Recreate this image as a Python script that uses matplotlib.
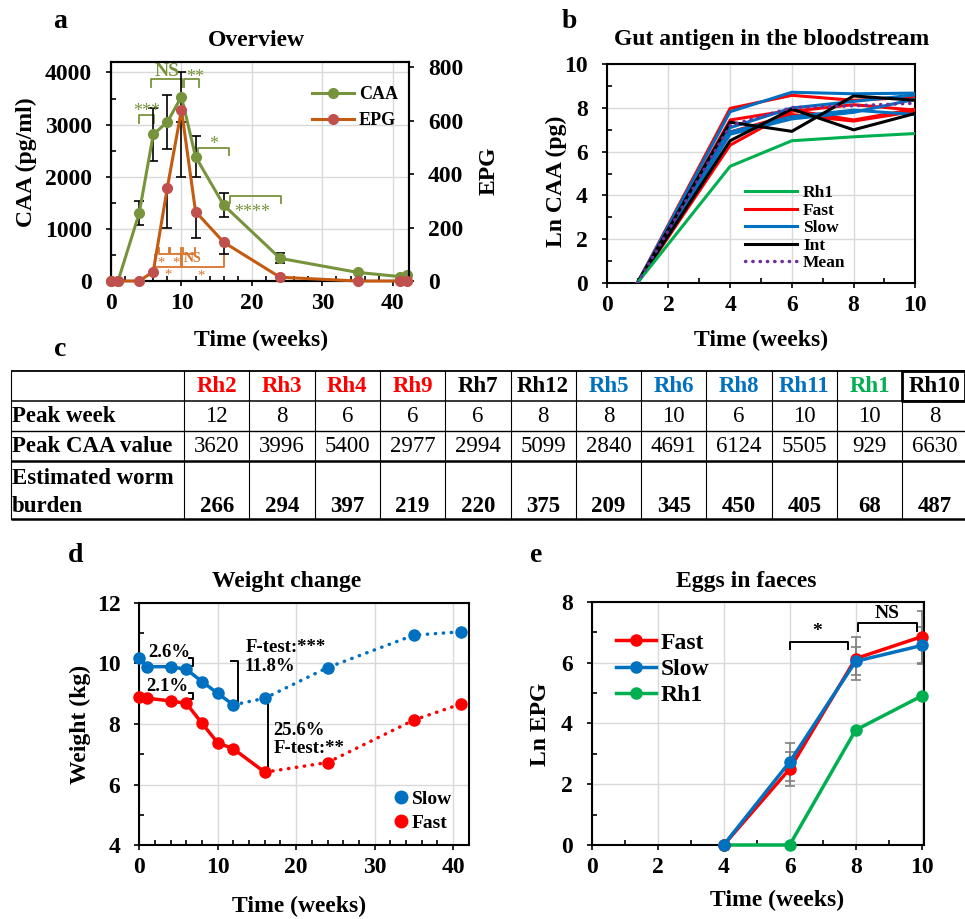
import numpy as np
import matplotlib
matplotlib.use('Agg')
import matplotlib.pyplot as plt
from matplotlib.ticker import MultipleLocator
from matplotlib.lines import Line2D

plt.rcParams['font.family'] = ['Liberation Serif', 'DejaVu Serif']
plt.rcParams['font.weight'] = 'bold'
plt.rcParams['axes.unicode_minus'] = False

W, H = 965, 919

# ---------------- data ----------------
# Panel a: overview
a_weeks = [0, 1, 4, 6, 8, 10, 12, 16, 24, 35, 41, 42]
a_caa = [0, 0, 1300, 2810, 3050, 3535, 2385, 1455, 435, 165, 85, 110]
a_caa_err = [0, 0, 235, 500, 520, 480, 400, 236, 96, 0, 0, 0]
a_epg = [0, 0, 0, 35, 350, 641, 260, 145, 14, 0, 0, 0]
a_epg_err = [0, 0, 0, 0, 152, 250, 100, 44, 0, 0, 0, 0]

# Panel b: Ln CAA per animal
b_weeks = [1, 4, 6, 8, 10]
b_fast = [[0, 7.98, 8.58, 8.35, 8.50],
          [0, 7.45, 7.90, 7.45, 7.95],
          [0, 6.30, 7.85, 8.15, 7.90],
          [0, 6.90, 7.70, 7.40, 7.85]]
b_slow = [[0, 7.83, 8.72, 8.65, 8.68],
          [0, 7.10, 8.00, 8.30, 8.60],
          [0, 6.90, 7.60, 7.90, 7.70],
          [0, 6.80, 7.50, 7.80, 8.40]]
b_int = [[0, 7.35, 6.93, 8.55, 8.35],
         [0, 6.50, 7.95, 7.00, 7.75]]
b_rh1 = [0, 5.33, 6.50, 6.68, 6.83]
b_mean = [0, 7.20, 8.02, 8.10, 8.22]

# Panel c: table
t_ids = ['Rh2', 'Rh3', 'Rh4', 'Rh9', 'Rh7', 'Rh12', 'Rh5', 'Rh6', 'Rh8', 'Rh11', 'Rh1', 'Rh10']
t_groups = ['Fast', 'Fast', 'Fast', 'Fast', 'Int', 'Int', 'Slow', 'Slow', 'Slow', 'Slow', 'Rh1', 'Int']
t_peak_week = [12, 8, 6, 6, 6, 8, 8, 10, 6, 10, 10, 8]
t_peak_caa = [3620, 3996, 5400, 2977, 2994, 5099, 2840, 4691, 6124, 5505, 929, 6630]
t_burden = [266, 294, 397, 219, 220, 375, 209, 345, 450, 405, 68, 487]

# Panel d: weight
d_weeks = [0, 1, 4, 6, 8, 10, 12, 16, 24, 35, 41]
d_slow = [10.16, 9.89, 9.89, 9.80, 9.40, 9.01, 8.63, 8.85, 9.86, 10.93, 11.04]
d_fast = [8.88, 8.85, 8.76, 8.68, 8.02, 7.38, 7.18, 6.41, 6.73, 8.13, 8.66]
d_slow_solid_end = 6   # index of week 12
d_fast_solid_end = 7   # index of week 16

# Panel e: Ln EPG
e_weeks = [4, 6, 8, 10]
e_fast = [0, 2.50, 6.13, 6.85]
e_fast_err = [0, 0.55, 0.72, 0.85]
e_slow = [0, 2.73, 6.04, 6.56]
e_slow_err = [0, 0.62, 0.46, 0.62]
e_rh1 = [0, 0, 3.78, 4.90]

# colours
C_GREEN_A = '#77933C'
C_ORANGE = '#C55A11'
C_ORANGE_M = '#C0504D'
C_ORANGE_T = '#D9742B'
C_RED = '#FF0000'
C_BLUE = '#0070C0'
C_GREEN = '#00B050'
C_PURPLE = '#7030A0'
GROUP_COL = {'Fast': C_RED, 'Slow': C_BLUE, 'Int': 'black', 'Rh1': C_GREEN}

fig = plt.figure(figsize=(W / 100, H / 100), dpi=100)


def rect(l, r, t, b):
    return [l / W, 1 - b / H, (r - l) / W, (b - t) / H]


def style(ax, xmaj, xmin, ymaj, ymin, grid=True):
    ax.xaxis.set_major_locator(MultipleLocator(xmaj))
    ax.xaxis.set_minor_locator(MultipleLocator(xmin))
    ax.yaxis.set_major_locator(MultipleLocator(ymaj))
    ax.yaxis.set_minor_locator(MultipleLocator(ymin))
    if grid:
        ax.grid(True, which='major', color='#d9d9d9', lw=1.0)
    ax.set_axisbelow(True)
    ax.tick_params(which='major', direction='out', length=3.6, width=1.2,
                   labelsize=17, pad=5)
    ax.tick_params(axis='y', which='major', pad=10)
    ax.tick_params(which='minor', direction='in', length=3.6, width=1.2)
    for s in ax.spines.values():
        s.set_linewidth(1.5)


# ---------------- panel a ----------------
ax_a = fig.add_axes(rect(111, 409, 62, 281))
ax_a.set_xlim(0, 42.3)
ax_a.set_ylim(0, 4200)
style(ax_a, 10, 2, 1000, 500)
ax_a.errorbar(a_weeks, a_caa, yerr=a_caa_err, fmt='none', ecolor='black',
              elinewidth=1.2, capsize=3.5, capthick=1.2, zorder=3)
ax_a.plot(a_weeks, a_caa, color=C_GREEN_A, lw=2.2, marker='o', ms=7,
          mfc=C_GREEN_A, mec=C_GREEN_A, clip_on=False, zorder=4)
ax_a2 = ax_a.twinx()
ax_a2.set_ylim(0, 820)
ax_a2.yaxis.set_major_locator(MultipleLocator(200))
ax_a2.tick_params(which='major', direction='out', length=3.6, width=1.2,
                  labelsize=17, pad=10)
for s in ax_a2.spines.values():
    s.set_linewidth(1.5)
ax_a2.errorbar(a_weeks, a_epg, yerr=[a_epg_err, [0] * len(a_epg_err)], fmt='none',
               ecolor='black', elinewidth=1.2, capsize=3.5, capthick=1.2, zorder=3)
ax_a2.plot(a_weeks, a_epg, color=C_ORANGE, lw=2.2, marker='o', ms=7,
           mfc=C_ORANGE_M, mec=C_ORANGE_M, clip_on=False, zorder=4)

# significance brackets (panel a, left-axis units)
a_green_br = [(4.0, 6.1, 3180, 3035, '***', 5.07, 3260),
              (5.7, 10.1, 3866, 3712, 'NS', 7.9, 4025),
              (10.4, 12.5, 3866, 3712, '**', 12.0, 3900),
              (12.3, 16.75, 2543, 2415, '*', 14.5, 2620),
              (16.9, 24.1, 1629, 1502, '****', 20.1, 1320)]
for x1, x2, yt, yb, s, tx, ty in a_green_br:
    ax_a.plot([x1, x1, x2, x2], [yb, yt, yt, yb], color=C_GREEN_A, lw=1.3, zorder=2)
    ax_a.text(tx, ty, s, color=C_GREEN_A, ha='center', va='center',
              fontsize=14 if s == 'NS' else 13, fontweight='bold' if s == 'NS' else 'normal')
a_orange_br = [(6.77, 8.23, 518, 640), (8.37, 9.94, 518, 640), (10.27, 11.92, 518, 640),
               (6.3, 9.9, 269, 500), (10.1, 16.0, 269, 500)]
for x1, x2, yb, yt in a_orange_br:
    ax_a.plot([x1, x1, x2, x2], [yt, yb, yb, yt], color=C_ORANGE_T, lw=1.3, zorder=2)
a_orange_txt = [(7.1, 340, '*'), (9.2, 340, '*'), (11.6, 430, 'NS'), (8.15, 110, '*'), (12.7, 100, '*')]
for tx, ty, s in a_orange_txt:
    ax_a.text(tx, ty, s, color=C_ORANGE_T, ha='center', va='center',
              fontsize=10 if s == 'NS' else 10.5, fontweight='bold' if s == 'NS' else 'normal')

ax_a.legend(handles=[Line2D([], [], color=C_GREEN_A, lw=2.2, marker='o', ms=7, label='CAA'),
                     Line2D([], [], color=C_ORANGE, lw=2.2, marker='o', ms=7,
                            mfc=C_ORANGE_M, mec=C_ORANGE_M, label='EPG')],
            loc='upper left', bbox_to_anchor=(312 / W, 1 - 86 / H),
            bbox_transform=fig.transFigure, frameon=False, fontsize=13,
            handlelength=2.3, handletextpad=0.3, labelspacing=0.5,
            borderpad=0, borderaxespad=0)

# ---------------- panel b ----------------
ax_b = fig.add_axes(rect(606.7, 915.3, 64.3, 282.7))
ax_b.set_xlim(0, 10)
ax_b.set_ylim(0, 10)
style(ax_b, 2, 1, 2, 1)
for ys in b_fast:
    ax_b.plot(b_weeks, ys, color=C_RED, lw=2.2, zorder=3)
for ys in b_slow:
    ax_b.plot(b_weeks, ys, color=C_BLUE, lw=2.2, zorder=3)
for ys in b_int:
    ax_b.plot(b_weeks, ys, color='black', lw=2.2, zorder=3)
ax_b.plot(b_weeks, b_rh1, color=C_GREEN, lw=2.2, zorder=3)
ax_b.plot(b_weeks, b_mean, color=C_PURPLE, lw=2.5, ls=(0, (0.1, 2.0)),
          dash_capstyle='round', zorder=4)
ax_b.legend(handles=[Line2D([], [], color=C_GREEN, lw=2.2, label='Rh1'),
                     Line2D([], [], color=C_RED, lw=2.2, label='Fast'),
                     Line2D([], [], color=C_BLUE, lw=2.2, label='Slow'),
                     Line2D([], [], color='black', lw=2.2, label='Int'),
                     Line2D([], [], color=C_PURPLE, lw=2.5, ls=(0, (0.1, 2.0)),
                            dash_capstyle='round', label='Mean')],
            loc='upper left', bbox_to_anchor=(745 / W, 1 - 185 / H),
            bbox_transform=fig.transFigure, frameon=False, fontsize=12.5,
            handlelength=3.0, handletextpad=0.35, labelspacing=0.08,
            borderpad=0, borderaxespad=0)

# ---------------- panel d ----------------
ax_d = fig.add_axes(rect(139.3, 468.7, 602.7, 845.3))
ax_d.set_xlim(0, 42)
ax_d.set_ylim(4, 12)
style(ax_d, 10, 2, 2, 1)
dot = (0, (0.1, 2.2))
s_end, f_end = d_slow_solid_end, d_fast_solid_end
ax_d.plot(d_weeks[:s_end + 1], d_slow[:s_end + 1], color=C_BLUE, lw=2.5, zorder=3)
ax_d.plot(d_weeks[s_end:], d_slow[s_end:], color=C_BLUE, lw=2.5, ls=dot,
          dash_capstyle='round', zorder=3)
ax_d.plot(d_weeks[:f_end + 1], d_fast[:f_end + 1], color=C_RED, lw=2.5, zorder=3)
ax_d.plot(d_weeks[f_end:], d_fast[f_end:], color=C_RED, lw=2.5, ls=dot,
          dash_capstyle='round', zorder=3)
ax_d.plot(d_weeks, d_slow, ls='none', marker='o', ms=8, color=C_BLUE, clip_on=False, zorder=4)
ax_d.plot(d_weeks, d_fast, ls='none', marker='o', ms=8, color=C_RED, clip_on=False, zorder=4)
d_brackets = [(6.3, 6.8, 10.16, 9.91), (6.3, 6.8, 9.01, 8.81),
              (11.68, 12.53, 10.09, 8.74), (15.8, 16.43, 8.68, 6.48)]
for x1, x2, yt, yb in d_brackets:
    ax_d.plot([x1, x2, x2, x1], [yt, yt, yb, yb], color='black', lw=1.4, zorder=2)
d_texts = [(1.15, 10.35, '2.6%'), (0.93, 9.23, '2.1%'), (13.6, 10.53, 'F-test:***'),
           (13.4, 9.89, '11.8%'), (17.1, 7.80, '25.6%'), (17.1, 7.20, 'F-test:**')]
for tx, ty, s in d_texts:
    ax_d.text(tx, ty, s, ha='left', va='center', fontsize=13.5, zorder=5)
ax_d.legend(handles=[Line2D([], [], ls='none', marker='o', ms=9, color=C_BLUE, label='Slow'),
                     Line2D([], [], ls='none', marker='o', ms=9, color=C_RED, label='Fast')],
            loc='upper left', bbox_to_anchor=(393 / W, 1 - 790 / H),
            bbox_transform=fig.transFigure, frameon=False, fontsize=14,
            handlelength=0.8, handletextpad=0.15, labelspacing=0.35,
            borderpad=0, borderaxespad=0)

# ---------------- panel e ----------------
ax_e = fig.add_axes(rect(591.7, 924.3, 601.7, 845))
ax_e.set_xlim(0, 10.08)
ax_e.set_ylim(0, 8)
style(ax_e, 2, 1, 2, 1)
ax_e.errorbar(e_weeks, e_fast, yerr=e_fast_err, fmt='none', ecolor='#7f7f7f',
              elinewidth=1.2, capsize=3.5, capthick=1.2, zorder=2)
ax_e.errorbar(e_weeks, e_slow, yerr=e_slow_err, fmt='none', ecolor='#7f7f7f',
              elinewidth=1.2, capsize=3.5, capthick=1.2, zorder=2)
ax_e.plot(e_weeks, e_rh1, color=C_GREEN, lw=2.5, marker='o', ms=8, clip_on=False, zorder=3)
ax_e.plot(e_weeks, e_fast, color=C_RED, lw=2.5, marker='o', ms=8, clip_on=False, zorder=4)
ax_e.plot(e_weeks, e_slow, color=C_BLUE, lw=2.5, marker='o', ms=8, clip_on=False, zorder=5)
e_brackets = [(6.01, 7.78, 6.68, 6.43, '*', 6.84, 7.03),
              (8.06, 9.85, 7.29, 7.04, 'NS', 8.96, 7.62)]
for x1, x2, yt, yb, s, tx, ty in e_brackets:
    ax_e.plot([x1, x1, x2, x2], [yb, yt, yt, yb], color='black', lw=1.4, zorder=2)
    ax_e.text(tx, ty, s, ha='center', va='center', fontsize=14)
ax_e.legend(handles=[Line2D([], [], color=C_RED, lw=2.5, marker='o', ms=8, label='Fast'),
                     Line2D([], [], color=C_BLUE, lw=2.5, marker='o', ms=8, label='Slow'),
                     Line2D([], [], color=C_GREEN, lw=2.5, marker='o', ms=8, label='Rh1')],
            loc='upper left', bbox_to_anchor=(616 / W, 1 - 632 / H),
            bbox_transform=fig.transFigure, frameon=False, fontsize=17,
            handlelength=1.7, handletextpad=0.2, labelspacing=0.2,
            borderpad=0, borderaxespad=0)

# ---------------- overlay: texts and table ----------------
ov = fig.add_axes([0, 0, 1, 1])
ov.set_xlim(0, W)
ov.set_ylim(H, 0)
ov.axis('off')


def txt(x, y, s, **kw):
    kw.setdefault('ha', 'center')
    kw.setdefault('va', 'center')
    ov.text(x, y, s, **kw)


# panel letters
for x, y, s in [(60, 22, 'a'), (569, 22, 'b'), (60, 349, 'c'), (76, 555, 'd'), (536, 556, 'e')]:
    txt(x, y, s, fontsize=20)
# titles
txt(256, 40, 'Overview', fontsize=17)
txt(772, 40, 'Gut antigen in the bloodstream', fontsize=17)
txt(287, 582, 'Weight change', fontsize=17)
txt(746, 582, 'Eggs in faeces', fontsize=17)
# axis labels
txt(261, 340, 'Time (weeks)', fontsize=17)
txt(761, 340, 'Time (weeks)', fontsize=17)
txt(299, 906, 'Time (weeks)', fontsize=17)
txt(777, 900, 'Time (weeks)', fontsize=17)
txt(26, 162, 'CAA (pg/ml)', fontsize=17, rotation=90)
txt(489, 171, 'EPG', fontsize=17, rotation=90)
txt(556, 181, 'Ln CAA (pg)', fontsize=17, rotation=90)
txt(80, 724, 'Weight (kg)', fontsize=17, rotation=90)
txt(540, 724, 'Ln EPG', fontsize=17, rotation=90)

# table
tx_left, tx_first = 10.7, 184.0
col_w = 65.3
n = len(t_ids)
col_edges = [tx_first + i * col_w for i in range(n + 1)]
row_y = [371, 401, 430.5, 461, 518.5]
row_lw = [1.3, 1.1, 1.0, 1.8, 1.8]
for y, lw in zip(row_y, row_lw):
    ov.plot([tx_left, W], [y, y], color='black', lw=lw, solid_capstyle='butt')
for x in [tx_left] + col_edges[:-1]:
    ov.plot([x, x], [row_y[0], row_y[-1]], color='black', lw=0.8)
# box around Rh10 header
ov.plot([col_edges[-2], col_edges[-2], W, W, col_edges[-2]],
        [row_y[0], row_y[1], row_y[1], row_y[0], row_y[0]], color='black', lw=2.0,
        clip_on=False)
TF = 16.5
txt(12, 416, 'Peak week', ha='left', fontsize=TF)
txt(12, 446, 'Peak CAA value', ha='left', fontsize=TF)
txt(12, 478, 'Estimated worm', ha='left', fontsize=TF)
txt(12, 506, 'burden', ha='left', fontsize=TF)
for i in range(n):
    cx = tx_first + (i + 0.5) * col_w
    txt(cx, 387, t_ids[i], fontsize=TF, color=GROUP_COL[t_groups[i]])
    txt(cx, 416, str(t_peak_week[i]), fontsize=TF, fontweight='normal')
    txt(cx, 446, str(t_peak_caa[i]), fontsize=TF, fontweight='normal')
    txt(cx, 506, str(t_burden[i]), fontsize=TF)

fig.savefig('out.png', dpi=100)
